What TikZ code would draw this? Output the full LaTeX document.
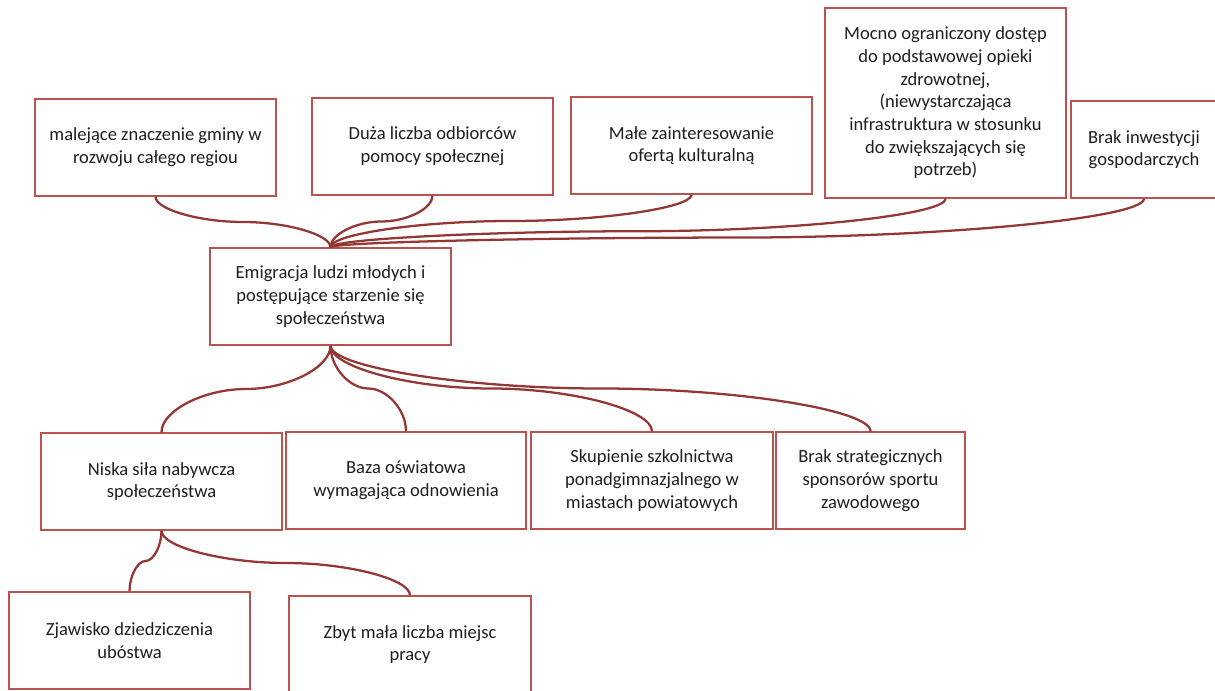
\documentclass[tikz,border=0pt]{standalone}
\usepackage{fontspec}
\setmainfont{Carlito}
\usetikzlibrary{calc}
\definecolor{boxc}{RGB}{186,82,79}
\definecolor{connc}{RGB}{148,54,52}
\definecolor{txtc}{RGB}{30,30,30}
\tikzset{
  box/.style 2 args={draw=boxc, line width=1.1pt, fill=white, inner sep=0pt,
    minimum width=#1*0.75pt, minimum height=#2*0.75pt, align=center,
    text=txtc, font=\fontsize{13.9}{17}\selectfont},
  connline/.style={draw=connc, line width=1.7pt},
  conn/.style={to path={
    let \p1=(\tikztostart), \p2=(\tikztotarget), \n1={#1} in
    .. controls (\x1, {\y1+0.5*\n1*(\y2-\y1)}) and ({\x1+0.25*(\x2-\x1)}, {\y1+\n1*(\y2-\y1)})
    .. ({0.5*(\x1+\x2)}, {\y1+\n1*(\y2-\y1)})
    .. controls ({\x1+0.75*(\x2-\x1)}, {\y1+\n1*(\y2-\y1)}) and (\x2, {\y2-0.5*(1-\n1)*(\y2-\y1)})
    .. (\p2)}},
  conn/.default=0.5
}
\begin{document}
\begin{tikzpicture}[x=0.75pt, y=-0.75pt]
\useasboundingbox (0,0) rectangle (1215,691);
\clip (0,0) rectangle (1215,691);
% top row
\node[box={241}{97}] (m1) at (155.5,147.5) {\raisebox{7pt}{\begin{tabular}{@{}c@{}}malejące znaczenie gminy w\\rozwoju całego regiou\end{tabular}}};
\node[box={241}{97}] (m2) at (432.5,146.5) {\raisebox{7pt}{\begin{tabular}{@{}c@{}}Duża liczba odbiorców\\pomocy społecznej\end{tabular}}};
\node[box={241}{97}] (m3) at (691.5,145.5) {Małe zainteresowanie\\ofertą kulturalną};
\node[box={241}{190}] (m4) at (945.5,103) {Mocno ograniczony dostęp\\do podstawowej opieki\\zdrowotnej,\\(niewystarczająca\\infrastruktura w stosunku\\do zwiększających się\\potrzeb)};
\node[box={146}{97}] (m5) at (1144,149.5) {Brak inwestycji\\gospodarczych};
% parent
\node[box={241}{97}] (p) at (330.5,296.5) {Emigracja ludzi młodych i\\postępujące starzenie się\\społeczeństwa};
% second row
\node[box={241}{97}] (n1) at (161.5,481.5) {Niska siła nabywcza\\społeczeństwa};
\node[box={240}{97}] (n2) at (406,480.5) {Baza oświatowa\\wymagająca odnowienia};
\node[box={242}{97}] (n3) at (652,480.5) {Skupienie szkolnictwa\\ponadgimnazjalnego w\\miastach powiatowych};
\node[box={189}{97}] (n4) at (870.5,480.5) {Brak strategicznych\\sponsorów sportu\\zawodowego};
% third row
\node[box={241}{97}] (z1) at (129.5,640.5) {Zjawisko dziedziczenia\\ubóstwa};
\node[box={242}{97}] (z2) at (410,644.5) {Zbyt mała liczba miejsc\\pracy};
% connectors top
\draw[connline] (m1.south) to[conn] (p.north);
\draw[connline] (m2.south) to[conn] (p.north);
\draw[connline] (m3.south) to[conn] (p.north);
\draw[connline] (m4.south) to[conn=0.67] (p.north);
\draw[connline] (m5.south) to[conn=0.8] (p.north);
% connectors bottom
\draw[connline] (p.south) to[conn] (n1.north);
\draw[connline] (p.south) to[conn] (n2.north);
\draw[connline] (p.south) to[conn] (n3.north);
\draw[connline] (p.south) to[conn] (n4.north);
\draw[connline] (n1.south) to[conn] (z1.north);
\draw[connline] (n1.south) to[conn] (z2.north);
\end{tikzpicture}
\end{document}
